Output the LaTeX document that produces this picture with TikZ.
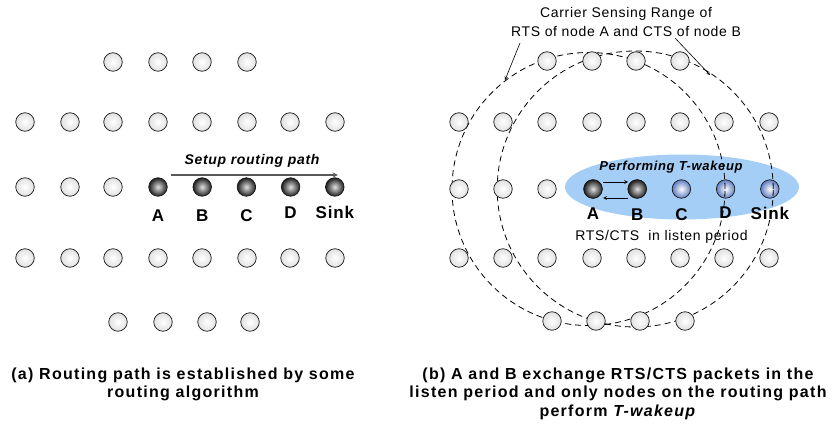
\documentclass[tikz,border=0pt]{standalone}
\usepackage{fontspec}
\setmainfont{Liberation Sans}[LetterSpace=5]
\newfontfamily\capfont{Liberation Sans}[LetterSpace=8]
\usepackage{tikz}
\usetikzlibrary{arrows}
\usetikzlibrary{positioning,calc,shapes.geometric}
\definecolor{zoneblue}{RGB}{164,206,246}
\definecolor{nodeblue}{RGB}{95,125,195}
\tikzset{
  sensor/.style={circle, draw=black!90, line width=0.7pt, minimum size=18.5pt, inner sep=0pt,
                 inner color=white, outer color=black!12},
  hop/.style={sensor, inner color=black!12, outer color=black!88},
  waker/.style={sensor, inner color=white, outer color=nodeblue},
  tag/.style={inner sep=0pt, font=\fontsize{17}{17}\selectfont\bfseries},
  csrange/.style={dash pattern=on 6pt off 4pt, line width=0.8pt},
  caption/.style={inner sep=0pt, anchor=north, align=center,
                  font=\capfont\fontsize{16}{18.5}\selectfont\bfseries}
}

\begin{document}
\begin{tikzpicture}[> = stealth, x=1pt, y=-1pt, node distance=44.2pt, on grid]
    \useasboundingbox (0,0) rectangle (838,428);

    % (a) routing path
    \foreach \x [count=\i] in {113,158,202,247}
        \node[sensor] (ar1-\i) at (\x,62) {};
    \foreach \x [count=\i] in {25,70,113,158,202,247,290,335} {
        \node[sensor] (ar2-\i) at (\x,122) {};
        \node[sensor] (ar4-\i) at (\x,258) {};
    }
    \foreach \x [count=\i] in {25,70,113}
        \node[sensor] (ar3-\i) at (\x,187) {};
    \foreach \x [count=\i] in {118,163,207,250}
        \node[sensor] (ar5-\i) at (\x,322) {};

    \node[hop] (a1)    at (158,187)     {};
    \node[hop] (b1)    [right=of a1]    {};
    \node[hop] (c1)    [right=of b1]    {};
    \node[hop] (d1)    [right=of c1]    {};
    \node[hop] (sink1) [right=of d1]    {};

    \node[tag] (la1) [below=29pt of a1]      {A};
    \node[tag] (lb1) [below=29pt of b1]      {B};
    \node[tag] (lc1) [below=29pt of c1]      {C};
    \node[tag] (ld1) [below=25.5pt of d1]    {D};
    \node[tag] (ls1) [below=25.5pt of sink1] {Sink};

    \draw[->, black!65, line width=1.2pt] ([xshift=13pt,yshift=12pt]a1.center)
        -- ([xshift=3pt,yshift=12pt]sink1.center);
    \node[inner sep=0pt, font=\fontsize{14}{14}\selectfont\bfseries\itshape] (setup)
        at (252,161) {Setup routing path};

    \node[caption] (capa) at (183,367.4)
        {(a) Routing path is established by some\\routing algorithm};

    % (b) T-wakeup
    \node[ellipse, fill=zoneblue, minimum width=234pt, minimum height=65pt, inner sep=0pt]
        (zone) at (682,187) {};

    \node[waker] (a2)    at (593,189)   {};
    \node[waker] (b2)    [right=of a2]  {};
    \node[waker] (c2)    [right=of b2]  {};
    \node[waker] (d2)    [right=of c2]  {};
    \node[waker] (sink2) [right=of d2]  {};
    \node[hop] at (a2) {};
    \node[hop] at (b2) {};

    \draw[csrange] ($(a2)+(-4.5,0)$) circle (136.5pt);
    \draw[csrange] ($(b2)+(-2,0)$)   circle (138pt);

    \foreach \x [count=\i] in {547,592,636,680}
        \node[sensor] (br1-\i) at (\x,61) {};
    \foreach \x [count=\i] in {459,503,547,592,636,680,724,769} {
        \node[sensor] (br2-\i) at (\x,122) {};
        \node[sensor] (br4-\i) at (\x,258) {};
    }
    \foreach \x [count=\i] in {459,503,547}
        \node[sensor] (br3-\i) at (\x,189) {};
    \foreach \x [count=\i] in {552,596,640,685}
        \node[sensor] (br5-\i) at (\x,321) {};

    \node[tag] (la2) [below=25pt of a2]    {A};
    \node[tag] (lb2) [below=26pt of b2]    {B};
    \node[tag] (lc2) [below=26pt of c2]    {C};
    \node[tag] (ld2) [below=24pt of d2]    {D};
    \node[tag] (ls2) [below=24pt of sink2] {Sink};

    \draw[->, line width=0.8pt] ([xshift=10pt,yshift=7pt]a2.center) -- ([xshift=-9pt,yshift=7pt]b2.center);
    \draw[->, line width=0.8pt] ([xshift=-9pt,yshift=-9pt]b2.center) -- ([xshift=10pt,yshift=-9pt]a2.center);

    \node[inner sep=0pt, font=\fontsize{13}{13}\selectfont\bfseries\itshape] (wake)
        at (671,167) {Performing T-wakeup};
    \node[inner sep=0pt, font=\fontsize{14}{14}\selectfont] (listen)
        at (661.5,236.4) {RTS/CTS\ \ in listen period};

    \node[inner sep=0pt, anchor=north, align=center, font=\fontsize{14}{19}\selectfont] (sense)
        at (626,6.8) {Carrier Sensing Range of\\RTS of node A and CTS of node B};
    \coordinate (sl)   at (520,43);
    \coordinate (rngA) at (505,80);
    \coordinate (sr)   at (675,38);
    \coordinate (rngB) at (710,75);
    \draw[->, line width=0.6pt] (sl) -- (rngA);
    \draw[->, line width=0.6pt] (sr) -- (rngB);

    \node[caption] (capb) at (618,367.4)
        {(b) A and B exchange RTS/CTS packets in the\\listen period and only nodes on the routing path\\perform \textit{T-wakeup}};
\end{tikzpicture}
\end{document}
